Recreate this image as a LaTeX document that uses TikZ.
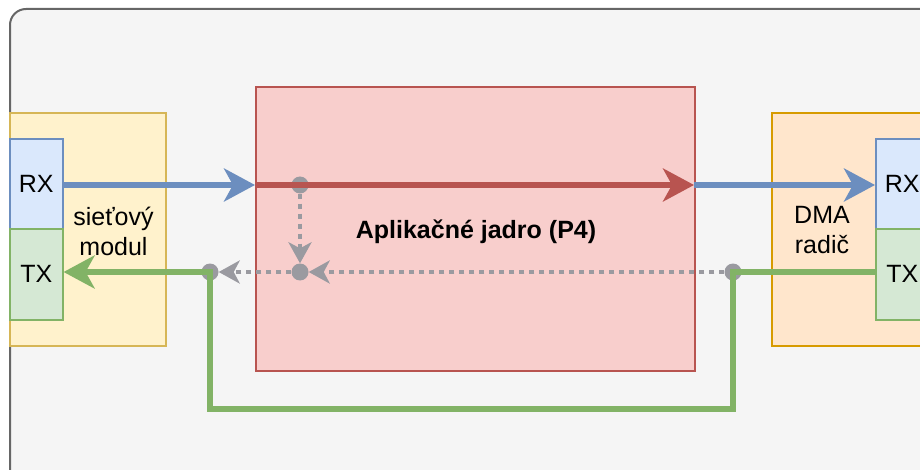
\documentclass[tikz,border=0pt]{standalone}
\usepackage{fontspec}
\setmainfont{Liberation Sans}
\usetikzlibrary{arrows.meta}

\definecolor{panelfill}{HTML}{F5F5F5}
\definecolor{panelline}{HTML}{666666}
\definecolor{yelfill}{HTML}{FFF2CC}
\definecolor{yelline}{HTML}{D6B656}
\definecolor{bluefill}{HTML}{DAE8FC}
\definecolor{blueline}{HTML}{6C8EBF}
\definecolor{grnfill}{HTML}{D5E8D4}
\definecolor{grnline}{HTML}{82B366}
\definecolor{redfill}{HTML}{F8CECC}
\definecolor{redline}{HTML}{B85450}
\definecolor{orgfill}{HTML}{FFE6CC}
\definecolor{orgline}{HTML}{D79B00}
\definecolor{ctlgray}{HTML}{9A9AA0}

\tikzset{
  box/.style={draw, line width=1.6pt, anchor=north west, inner sep=0pt,
    font=\fontsize{25}{30}\selectfont, align=center},
  port/.style={box, minimum width=53pt},
  datapath/.style={line width=6.8pt, -{Stealth[length=31pt,width=33pt,inset=9pt]}},
  ctlpath/.style={line width=4.3pt, color=ctlgray, dash pattern=on 5pt off 5pt,
    -{Stealth[length=21pt,width=23pt,inset=6pt]}},
  junction/.style={circle, fill=ctlgray, minimum size=17pt, inner sep=0pt},
  label/.style={font=\fontsize{25}{30}\selectfont, align=center, inner sep=0pt}
}

\begin{document}
\begin{tikzpicture}[x=1pt, y=-1pt]
  \clip (0,0) rectangle (920,470);

  % background panel
  \node[draw=panelline, fill=panelfill, line width=2pt, rounded corners=16pt,
        anchor=north west, minimum width=940pt, minimum height=490pt, inner sep=0pt]
        (panel) at (9,8) {};

  % network module with its ports
  \node[box, draw=yelline, fill=yelfill, minimum width=156pt, minimum height=233pt]
        (net) at (9,112) {};
  \node[label] (netlbl) at (113.5,231.5) {sieťový\\modul};
  \node[port, draw=blueline, fill=bluefill, minimum height=90pt] (rxL) at (9,138) {RX};
  \node[port, draw=grnline, fill=grnfill, minimum height=91pt] (txL) at (9,228) {TX};

  % DMA controller with its ports
  \node[box, draw=orgline, fill=orgfill, minimum width=156pt, minimum height=233pt]
        (dma) at (771,112) {};
  \node[label] (dmalbl) at (822,230.5) {DMA\\radič};
  \node[port, draw=blueline, fill=bluefill, minimum height=90pt] (rxR) at (875,138) {RX};
  \node[port, draw=grnline, fill=grnfill, minimum height=91pt] (txR) at (875,228) {TX};

  % application core
  \node[box, draw=redline, fill=redfill, minimum width=439pt, minimum height=284pt]
        (core) at (255,86) {};
  \node[label, font=\fontsize{25}{30}\selectfont\bfseries] (corelbl) at (476,232)
        {Aplikačné jadro (P4)};

  % junction points
  \node[junction] (jA) at (300,185) {};
  \node[junction] (jB) at (300,272) {};
  \node[junction] (jL) at (210,272) {};
  \node[junction] (jR) at (733,272) {};
  \coordinate (inL)  at (255,185);
  \coordinate (outR) at (694,185);
  \coordinate (loopR) at (733,409);
  \coordinate (loopL) at (210,409);

  % receive path
  \draw[datapath, draw=blueline] (rxL.east |- inL) -- (inL);
  \draw[datapath, draw=redline] (inL) -- (outR);
  \draw[datapath, draw=blueline] (outR) -- (rxR.west |- outR);

  % transmit loop-back path
  \draw[datapath, draw=grnline, line join=miter]
        (txR.west |- jR) -- (jR.center) -- (loopR) -- (loopL) -- (jL.center)
        -- (txL.east |- jL);

  % control paths
  \draw[ctlpath] (jA) -- (jB);
  \draw[ctlpath] (jR) -- (jB);
  \draw[ctlpath] (jB) -- (jL);
\end{tikzpicture}
\end{document}
